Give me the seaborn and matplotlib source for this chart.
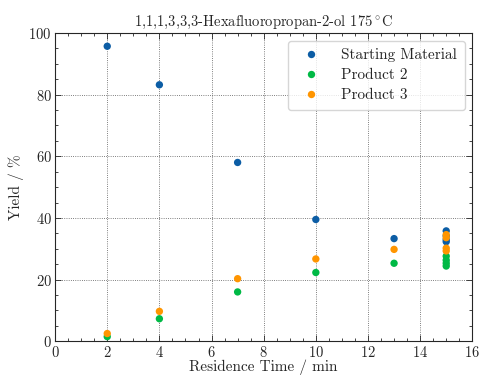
import pandas as pd
import seaborn as sns
import matplotlib.pyplot as plt
from matplotlib.ticker import MultipleLocator

# residence time (min) and yields (%)
sm_time = [2, 4, 7, 10, 13, 15, 15, 15, 15]
sm_yield = [95.7, 83.2, 58.0, 39.5, 33.3, 35.8, 34.2, 33.0, 32.3]
p2_time = [2, 4, 7, 10, 13, 15, 15, 15, 15]
p2_yield = [1.5, 7.3, 16.0, 22.3, 25.3, 27.6, 26.3, 25.3, 24.4]
p3_time = [2, 4, 7, 10, 13, 15, 15, 15, 15]
p3_yield = [2.5, 9.7, 20.3, 26.7, 29.8, 34.6, 33.6, 30.2, 29.3]

series_names = ['Starting Material', 'Product 2', 'Product 3']
colors = ['#0C5DA5', '#00B945', '#FF9500']


def main():
    df = pd.concat([
        pd.DataFrame({'time': sm_time, 'yield': sm_yield,
                      'series': series_names[0]}),
        pd.DataFrame({'time': p2_time, 'yield': p2_yield,
                      'series': series_names[1]}),
        pd.DataFrame({'time': p3_time, 'yield': p3_yield,
                      'series': series_names[2]}),
    ])

    sns.set_style('ticks')
    plt.rcParams['font.family'] = ['cmr10', 'DejaVu Serif']
    plt.rcParams['mathtext.fontset'] = 'cm'
    plt.rcParams['axes.formatter.use_mathtext'] = True

    fig = plt.figure(figsize=(4.79, 3.75), dpi=100)
    ax = fig.add_axes([0.115, 0.09, 0.871, 0.822])
    sns.scatterplot(data=df, x='time', y='yield', hue='series',
                    palette=colors, s=28, linewidth=0, ax=ax, zorder=3)

    ax.set_xlim(0, 16)
    ax.set_ylim(0, 100)
    ax.xaxis.set_major_locator(MultipleLocator(2))
    ax.xaxis.set_minor_locator(MultipleLocator(0.5))
    ax.yaxis.set_major_locator(MultipleLocator(20))
    ax.yaxis.set_minor_locator(MultipleLocator(5))
    ax.tick_params(which='both', direction='in', top=True, right=True,
                   labelsize=10.5, width=0.6, pad=2.5)
    ax.tick_params(which='major', length=4)
    ax.tick_params(which='minor', length=2)
    for sp in ax.spines.values():
        sp.set_linewidth(0.8)
    ax.grid(True, which='major', linestyle=':', color='#555555',
            linewidth=0.6)

    ax.set_title(r'1,1,1,3,3,3-Hexafluoropropan-2-ol 175$^\circ$C',
                 fontsize=10.5, pad=5)
    ax.set_xlabel('Residence Time / min', fontsize=11, labelpad=0)
    ax.set_ylabel('Yield / %', fontsize=11, labelpad=3)
    leg = ax.legend(title=None, loc='upper right', fontsize=11, frameon=True,
                    markerscale=1.0, handletextpad=1.0, borderpad=0.5,
                    labelspacing=0.4, borderaxespad=0.5)
    leg.get_frame().set_edgecolor('#cccccc')

    fig.savefig('out.png', dpi=100)


if __name__ == '__main__':
    main()
